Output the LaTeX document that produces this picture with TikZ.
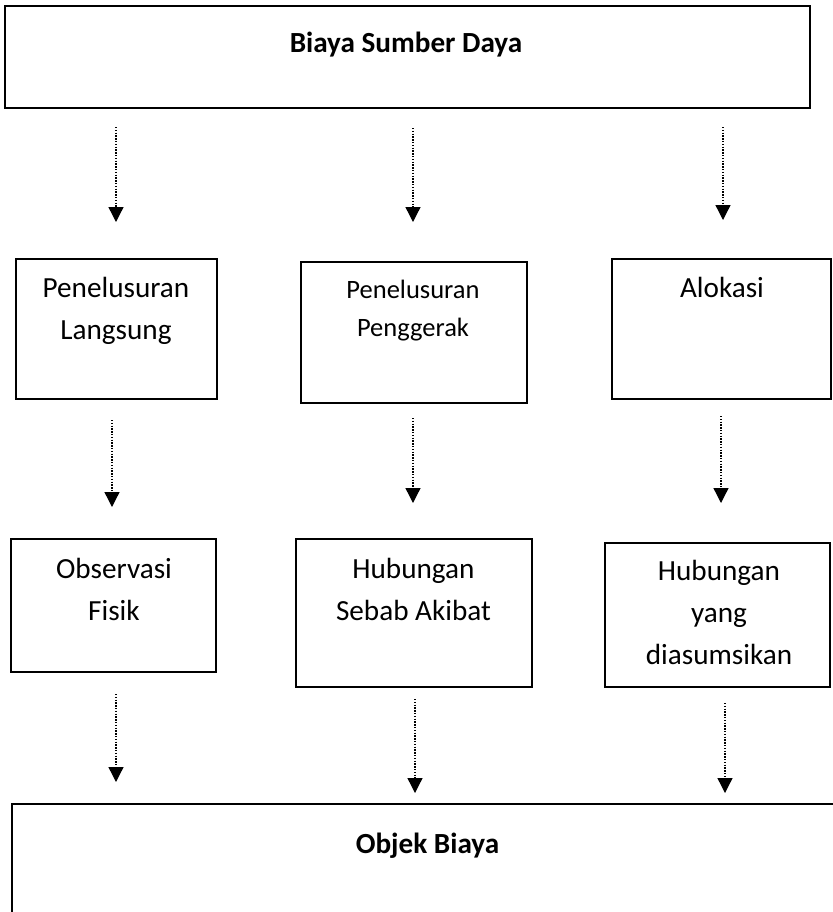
\documentclass[tikz,border=0pt]{standalone}
\usepackage{fontspec}
\setmainfont{Carlito}
\usetikzlibrary{arrows.meta}
\begin{document}
\begin{tikzpicture}[x=0.5pt,y=-0.5pt,
  box/.style={draw, line width=0.9pt, inner sep=0pt},
  lbl/.style={anchor=base, align=center, inner sep=0pt, font=\fontsize{14.6}{21}\selectfont},
  lblsmall/.style={lbl, font=\fontsize{13.25}{19}\selectfont},
  dotarrow/.style={line width=0.65pt, dash pattern=on 0.65pt off 0.75pt, -{Triangle[width=7.5pt,length=7.5pt]}}]
\useasboundingbox (0,0) rectangle (832,912);
% boxes
\node[box, minimum width=402.5pt, minimum height=51pt] (top) at (407.5,57) {};
\node[box, minimum width=100.5pt, minimum height=70pt] (A) at (116.5,329) {};
\node[box, minimum width=113pt, minimum height=70.5pt] (B) at (414,332.5) {};
\node[box, minimum width=109.5pt, minimum height=70pt] (C) at (721.5,329) {};
\node[box, minimum width=102.5pt, minimum height=66.5pt] (D) at (113.5,605.5) {};
\node[box, minimum width=118pt, minimum height=74pt] (E) at (414,613) {};
\node[box, minimum width=112.5pt, minimum height=72pt] (F) at (717.5,615) {};
\node[box, minimum width=415.5pt, minimum height=98pt] (bot) at (427.5,902) {};
% labels (base anchor = baseline of last line)
\node[lbl, font=\fontsize{14.6}{21}\selectfont\bfseries] (topt) at (406,52) {Biaya Sumber Daya};
\node[lbl] (At) at (116,339) {Penelusuran\\Langsung};
\node[lblsmall] (Bt) at (413,336) {Penelusuran\\Penggerak};
\node[lbl] (Ct) at (722,297) {Alokasi};
\node[lbl] (Dt) at (114,620) {Observasi\\Fisik};
\node[lbl] (Et) at (413.5,620) {Hubungan\\Sebab Akibat};
\node[lbl] (Ft) at (719,664) {Hubungan\\yang\\diasumsikan};
\node[lbl, font=\fontsize{14.6}{21}\selectfont\bfseries] (bott) at (427.5,853) {Objek Biaya};
% arrow endpoints
\coordinate (a1s) at (116,127); \coordinate (a1e) at (116,222);
\coordinate (a2s) at (413,128); \coordinate (a2e) at (413,222);
\coordinate (a3s) at (723,127); \coordinate (a3e) at (723,220);
\coordinate (b1s) at (112,420); \coordinate (b1e) at (112,507);
\coordinate (b2s) at (413,418); \coordinate (b2e) at (413,503);
\coordinate (b3s) at (721,416); \coordinate (b3e) at (721,503);
\coordinate (c1s) at (116,694); \coordinate (c1e) at (116,782);
\coordinate (c2s) at (415,699); \coordinate (c2e) at (415,793);
\coordinate (c3s) at (725,703); \coordinate (c3e) at (725,793);
\foreach \r in {a,b,c}{
  \foreach \i in {1,2,3}{
    \draw[dotarrow] (\r\i s) -- (\r\i e);
  }
}
\end{tikzpicture}
\end{document}
